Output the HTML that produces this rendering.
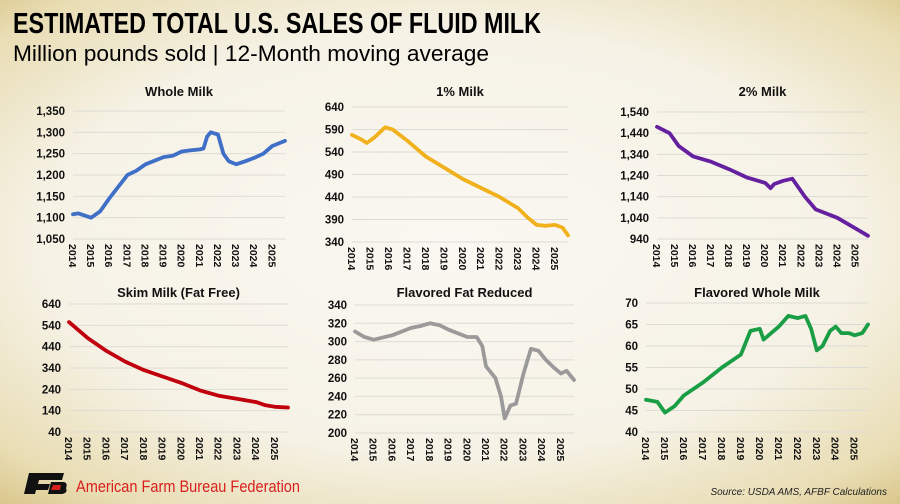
<!DOCTYPE html>
<html><head><meta charset="utf-8"><style>
html,body{margin:0;padding:0;width:900px;height:504px;overflow:hidden}
body{background:radial-gradient(ellipse 75% 70% at 50% 48%,#faf8f2 0%,#f6f2e6 60%,#e9ddb4 88%,#d9c68a 100%);font-family:"Liberation Sans",sans-serif}
svg{position:absolute;left:0;top:0}
</style></head><body>
<svg id="s" width="900" height="504" xmlns="http://www.w3.org/2000/svg">
<text x="13" y="33" font-family="Liberation Sans Narrow, Liberation Sans, sans-serif" font-weight="bold" font-size="29" fill="#000" textLength="528" lengthAdjust="spacingAndGlyphs">ESTIMATED TOTAL U.S. SALES OF FLUID MILK</text>
<text x="13" y="61" font-size="22" fill="#000" textLength="476" lengthAdjust="spacingAndGlyphs">Million pounds sold | 12-Month moving average</text>
<g transform="translate(24,473)">
<path d="M5,0 H40 L38,7 H15 L14,11 H26 L24,17 H12 L11,21 H0 Z" fill="#111"/>
<path d="M27,9 H40 Q44,10 42,15 Q44,20 38,21 H24 Z" fill="#111"/>
<path d="M29,12 H37 L36,17 H27 Z" fill="#d8201e"/>
</g>
<text x="76" y="492" font-size="17" fill="#d8201e" textLength="224" lengthAdjust="spacingAndGlyphs">American Farm Bureau Federation</text>
<text x="887" y="495" font-size="10" font-style="italic" fill="#222" text-anchor="end">Source: USDA AMS, AFBF Calculations</text>
<g id="g"></g>
</svg>
<script>
var P=[
{t:"Whole Milk",ty:96,x0:73,x1:285,yt:111,yb:239,min:1050,max:1350,step:50,c:"#3f6fc6",fmt:1,
d:[[0,1108],[0.3,1110],[1,1100],[1.5,1115],[2,1145],[3,1200],[3.5,1210],[4,1225],[5,1242],[5.5,1245],[6,1255],[6.5,1258],[7,1260],[7.2,1262],[7.4,1290],[7.6,1300],[8,1295],[8.3,1250],[8.6,1232],[9,1225],[9.5,1232],[10,1240],[10.5,1250],[11,1268],[11.7,1280]]},
{t:"1% Milk",ty:96,x0:352,x1:568,yt:107,yb:242,min:340,max:640,step:50,c:"#f1b11d",
d:[[0,578],[0.5,568],[0.8,560],[1.2,572],[1.8,595],[2.2,590],[3,565],[4,530],[5,505],[6,480],[7,460],[8,440],[9,415],[9.5,395],[10,378],[10.5,376],[11,378],[11.4,372],[11.7,355]]},
{t:"2% Milk",ty:96,x0:657,x1:868,yt:112,yb:239,min:940,max:1540,step:100,c:"#6520a0",fmt:1,
d:[[0,1470],[0.7,1440],[1.2,1380],[2,1330],[3,1305],[4,1270],[5,1230],[6,1205],[6.3,1180],[6.5,1200],[7,1215],[7.5,1225],[8.2,1140],[8.8,1080],[10,1040],[11,990],[11.7,955]]},
{t:"Skim Milk (Fat Free)",ty:297,x0:69,x1:288,yt:304,yb:432,min:40,max:640,step:100,c:"#c0000c",
d:[[0,555],[1,480],[2,420],[3,370],[4,330],[5,300],[6,270],[7,235],[8,210],[9,195],[10,180],[10.5,165],[11,158],[11.7,155]]},
{t:"Flavored Fat Reduced",ty:297,x0:355,x1:574,yt:305,yb:433,min:200,max:340,step:20,c:"#9a9a9a",
d:[[0,311],[0.5,305],[1,302],[2,307],[3,315],[3.5,317],[4,320],[4.5,318],[5,313],[6,305],[6.5,305],[6.8,295],[7,273],[7.5,260],[7.8,240],[8,216],[8.3,230],[8.6,232],[9,265],[9.4,292],[9.8,290],[10.2,280],[10.6,272],[11,265],[11.3,268],[11.7,258]]},
{t:"Flavored Whole Milk",ty:297,x0:646,x1:868,yt:303,yb:432,min:40,max:70,step:5,c:"#1a9e45",
d:[[0,47.5],[0.6,47],[1,44.5],[1.5,46],[2,48.5],[3,51.5],[4,55],[4.5,56.5],[5,58],[5.5,63.5],[6,64],[6.2,61.5],[6.6,63],[7,64.5],[7.5,67],[8,66.5],[8.4,67],[8.7,64],[9,59],[9.3,60],[9.7,63.5],[10,64.5],[10.3,63],[10.7,63],[11,62.5],[11.4,63],[11.7,65]]}
];
var h="";
function f(v,c){return c?v.toLocaleString("en-US"):String(v)}
P.forEach(function(p){
 var sx=function(t){return p.x0+t*(p.x1-p.x0)/11.7},sy=function(v){return p.yb-(v-p.min)*(p.yb-p.yt)/(p.max-p.min)};
 h+='<text x="'+(p.x0+p.x1)/2+'" y="'+p.ty+'" font-size="13" font-weight="bold" text-anchor="middle" fill="#111">'+p.t+'</text>';
 for(var v=p.min;v<=p.max+1e-9;v+=p.step){var y=sy(v);
  h+='<line x1="'+p.x0+'" x2="'+p.x1+'" y1="'+y+'" y2="'+y+'" stroke="#dcdcd6" stroke-width="1"/>';
  h+='<text x="'+(p.x0-8)+'" y="'+(y+4)+'" font-size="11.5" font-weight="bold" text-anchor="end" fill="#111">'+f(v,p.fmt)+'</text>';}
 for(var i=0;i<12;i++){var x=sx(i)-4;
  h+='<text transform="translate('+x+','+(p.yb+5)+') rotate(90)" font-size="10.5" font-weight="bold" fill="#111">'+(2014+i)+'</text>';}
 var pts=p.d.map(function(q){return sx(q[0]).toFixed(1)+","+sy(q[1]).toFixed(1)}).join(" ");
 h+='<polyline points="'+pts+'" fill="none" stroke="'+p.c+'" stroke-width="3.8" stroke-linejoin="round" stroke-linecap="round"/>';
});
document.getElementById("g").innerHTML=h;
</script>
</body></html>
